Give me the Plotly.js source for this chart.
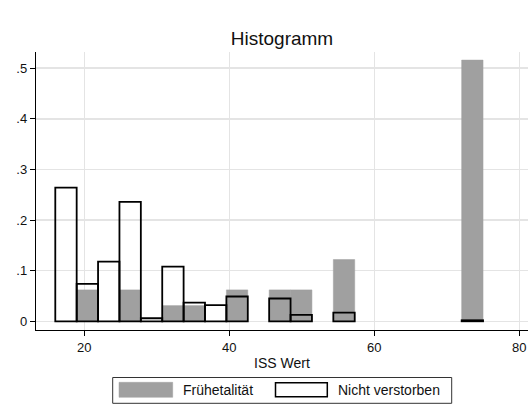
<!DOCTYPE html>
<html>
<head>
<meta charset="utf-8">
<script src="https://cdn.plot.ly/plotly-3.0.1.min.js"></script>
<style>
  html, body { margin: 0; padding: 0; background: #fff; }
  #chart { width: 532px; height: 414px; }
</style>
</head>
<body>
<div id="chart"></div>
<script>
// Histogram bins: 20 bins of equal width starting at ISS 16
const binStart = 16;
const binWidth = 2.95;

// Fraction of cases per bin (null = empty bin)
const fruehletalitaet = [null, 0.062, null, 0.062, null, 0.031, 0.031, null, 0.062, null,
                         0.062, 0.062, null, 0.122, null, null, null, null, null, 0.516];
const nichtVerstorben = [0.264, 0.074, 0.118, 0.236, 0.006, 0.108, 0.037, 0.032, 0.049, null,
                         0.045, 0.0125, null, 0.017, null, null, null, null, null, 0.002];

const seriesNames = ['Frühetalität', 'Nicht verstorben'];
const yTickVals = [0, 0.1, 0.2, 0.3, 0.4, 0.5];
const yTickText = ['0', '.1', '.2', '.3', '.4', '.5'];
const xTickVals = [20, 40, 60, 80];

const binCenters = fruehletalitaet.map((_, i) => binStart + binWidth * (i + 0.5));

const W = 532, H = 414;
const M = { l: 36, r: 4, t: 52, b: 84 };
const plotW = W - M.l - M.r, plotH = H - M.t - M.b;
// pixel position -> paper coordinates for legend placement
const px = x => (x - M.l) / plotW;
const py = y => (H - M.b - y) / plotH;

const FONT = 'Arial, "Liberation Sans", sans-serif';
const GRAY = '#a0a0a0';

const traces = [
  {
    type: 'bar',
    name: seriesNames[0],
    x: binCenters,
    y: fruehletalitaet,
    width: binWidth,
    marker: { color: GRAY, line: { color: GRAY, width: 0.5 } },
    hoverinfo: 'skip'
  },
  {
    type: 'bar',
    name: seriesNames[1],
    x: binCenters,
    y: nichtVerstorben,
    width: binWidth,
    marker: { color: 'rgba(0,0,0,0)', line: { color: '#000', width: 1.8 } },
    hoverinfo: 'skip'
  }
];

// Boxed legend with wide swatches below the axis title
const shapes = [
  { type: 'rect', xref: 'paper', yref: 'paper', x0: px(112.7), x1: px(451.7), y0: py(377.5), y1: py(403.3),
    line: { color: '#333', width: 1 }, fillcolor: '#fff' },
  { type: 'rect', xref: 'paper', yref: 'paper', x0: px(119), x1: px(172.7), y0: py(382.3), y1: py(397.3),
    line: { color: GRAY, width: 0.5 }, fillcolor: GRAY },
  { type: 'rect', xref: 'paper', yref: 'paper', x0: px(275.5), x1: px(327.3), y0: py(382.8), y1: py(396.8),
    line: { color: '#000', width: 1.5 }, fillcolor: 'rgba(0,0,0,0)' }
];

const annotations = [
  { xref: 'paper', yref: 'paper', x: px(181), y: py(390), xanchor: 'left', yanchor: 'middle',
    text: seriesNames[0], showarrow: false, font: { family: FONT, size: 14, color: '#111' } },
  { xref: 'paper', yref: 'paper', x: px(336), y: py(390), xanchor: 'left', yanchor: 'middle',
    text: seriesNames[1], showarrow: false, font: { family: FONT, size: 14, color: '#111' } }
];

const layout = {
  width: W,
  height: H,
  margin: M,
  paper_bgcolor: '#fff',
  plot_bgcolor: '#fff',
  barmode: 'overlay',
  bargap: 0,
  showlegend: false,
  font: { family: FONT, size: 13, color: '#111' },
  title: {
    text: 'Histogramm',
    font: { family: FONT, size: 19, color: '#111' },
    xref: 'paper', x: 0.5, xanchor: 'center',
    yref: 'container', y: 1 - 38.5 / H, yanchor: 'middle'
  },
  xaxis: {
    range: [13.34, 81.2],
    tickvals: xTickVals,
    ticks: 'outside', ticklen: 5, tickcolor: '#000', tickwidth: 1,
    showline: true, linecolor: '#000', linewidth: 1.2,
    showgrid: true, gridcolor: '#e4e4e4', gridwidth: 1.5,
    zeroline: false,
    tickfont: { family: FONT, size: 13, color: '#111' },
    title: { text: 'ISS Wert', font: { family: FONT, size: 14, color: '#111' }, standoff: 4 }
  },
  yaxis: {
    range: [-0.0172, 0.532],
    tickvals: yTickVals,
    ticktext: yTickText,
    ticks: 'outside', ticklen: 5, tickcolor: '#000', tickwidth: 1,
    showline: true, linecolor: '#000', linewidth: 1.2,
    showgrid: true, gridcolor: '#e4e4e4', gridwidth: 1.5,
    zeroline: false,
    tickfont: { family: FONT, size: 13, color: '#111' }
  },
  shapes: shapes,
  annotations: annotations
};

Plotly.newPlot('chart', traces, layout, { staticPlot: true, displayModeBar: false });
</script>
</body>
</html>
